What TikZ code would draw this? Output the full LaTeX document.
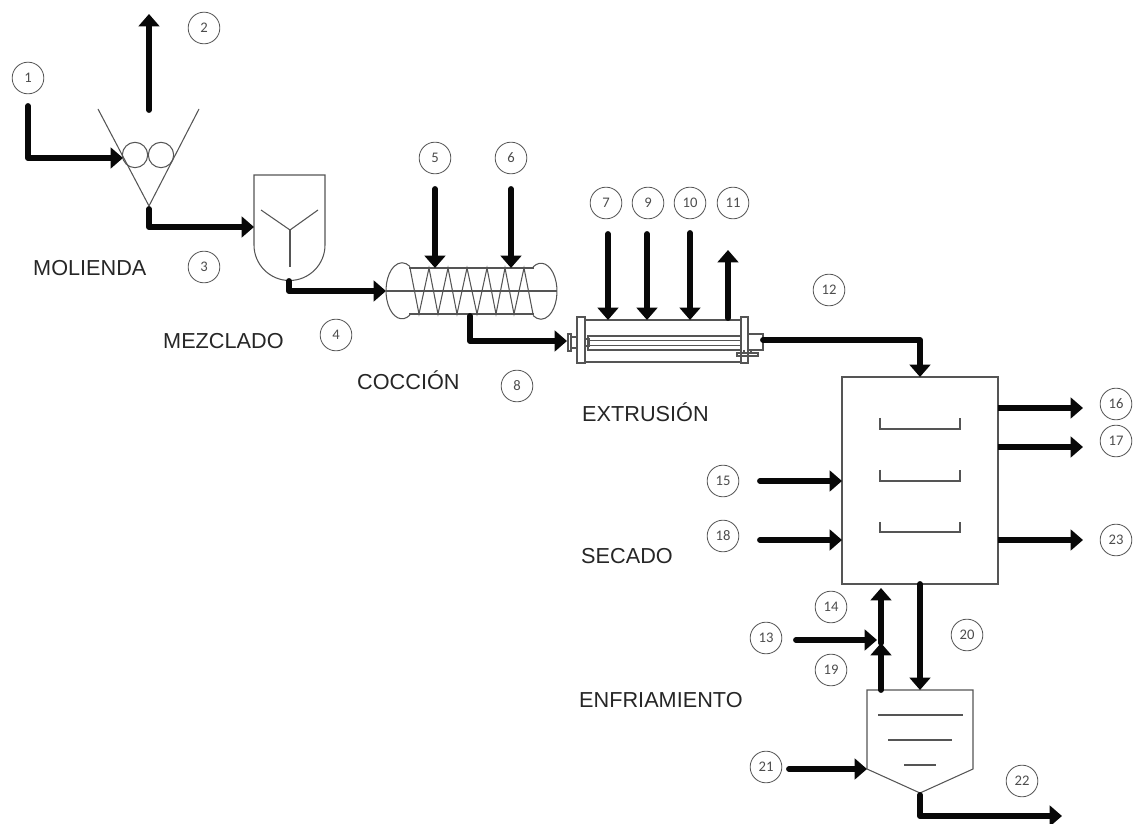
\documentclass[tikz,border=0pt]{standalone}
\usepackage{fontspec}
\setmainfont{Liberation Sans}
\newfontfamily\numfont{Carlito}
\usepackage{xcolor}
\usetikzlibrary{arrows.meta, calc}
\definecolor{thinline}{RGB}{85,85,85}
\definecolor{flowblack}{RGB}{8,8,8}
\tikzset{
  flow/.style={flowblack, line width=5pt, line cap=round, line join=round, -{Triangle[length=10.5pt,width=17.5pt]}},
  flowout/.style={flow, line cap=butt},
  equip/.style={thinline, line width=0.9pt},
  tag/.style={circle, draw=thinline, line width=0.7pt, minimum size=0.95cm, inner sep=0pt, font=\numfont\fontsize{12.5}{12.5}\selectfont, text=black!70},
  stage/.style={font=\fontsize{18.5}{20}\selectfont, text=black!85, anchor=west, inner sep=0pt},
  roller/.style={circle, draw=thinline, line width=0.9pt, minimum size=0.76cm, inner sep=0pt, outer sep=0pt}
}
\begin{document}
\begin{tikzpicture}[x=0.03cm, y=-0.03cm]
  \useasboundingbox (0,0) rectangle (1135,824);

  % Stage names
  \node[stage] (molienda) at (33, 268) {MOLIENDA};
  \node[stage] (mezclado) at (163, 341) {MEZCLADO};
  \node[stage] (coccion) at (357, 380) {COCCIÓN};
  \node[stage] (extrusion) at (582, 412) {EXTRUSIÓN};
  \node[stage] (secado) at (581, 556) {SECADO};
  \node[stage] (enfriamiento) at (579, 700) {ENFRIAMIENTO};

  % Stream numbers
  \node[tag] (n1) at (28, 78) {1};
  \node[tag] (n2) at (204, 28) {2};
  \node[tag] (n3) at (204, 267) {3};
  \node[tag] (n4) at (336, 335) {4};
  \node[tag] (n5) at (435, 158) {5};
  \node[tag] (n6) at (511, 158) {6};
  \node[tag] (n7) at (606, 203) {7};
  \node[tag] (n8) at (517, 386) {8};
  \node[tag] (n9) at (648, 203) {9};
  \node[tag] (n10) at (690, 203) {10};
  \node[tag] (n11) at (733, 203) {11};
  \node[tag] (n12) at (829, 290) {12};
  \node[tag] (n13) at (766, 638) {13};
  \node[tag] (n14) at (831, 607) {14};
  \node[tag] (n15) at (723, 481) {15};
  \node[tag] (n16) at (1116, 404) {16};
  \node[tag] (n17) at (1116, 441) {17};
  \node[tag] (n18) at (723, 536) {18};
  \node[tag] (n19) at (831, 670) {19};
  \node[tag] (n20) at (967, 635) {20};
  \node[tag] (n21) at (766, 767) {21};
  \node[tag] (n22) at (1022, 781) {22};
  \node[tag] (n23) at (1116, 540) {23};

  % Mill
  \draw[equip] (98, 109) -- (149, 206) -- (199, 109);
  \node[roller] (rollerA) at (135, 155) {};
  \node[roller] (rollerB) at (161, 155) {};
  \coordinate (millout) at (149, 209);

  % Mixer
  \draw[equip] (254, 245) -- (254, 175) -- (325, 175) -- (325, 245) arc[start angle=0, end angle=180, radius=35.5];
  \draw[equip] (261, 210) -- (290, 230) -- (318, 210);
  \draw[equip] (290, 230) -- (290, 267);
  \coordinate (mixerin) at (254, 227);
  \coordinate (mixerout) at (289, 281);

  % Cooker
  \draw[equip] (410, 315) arc[start angle=60, end angle=300, x radius=16, y radius=28];
  \draw[equip] (533, 267) arc[start angle=240, end angle=480, x radius=16, y radius=28];
  \draw[equip] (409, 268) -- (534, 268);
  \draw[equip] (409, 314) -- (534, 314);
  \draw[equip] (386, 291) -- (557, 291);
  \draw[equip] (410, 268) -- (419, 314) -- (429, 268) -- (438, 314) -- (448, 268) -- (457, 314) -- (467, 268)
    -- (477, 314) -- (487, 268) -- (496, 314) -- (505, 268) -- (514, 314) -- (524, 268) -- (533, 314);
  \coordinate (cookerin) at (386, 291);
  \coordinate (cookerA) at (435, 268);
  \coordinate (cookerB) at (511, 268);
  \coordinate (cookerout) at (470, 316);

  % Extruder
  \draw[equip] (577, 317) rectangle (585, 363);
  \draw[equip] (741, 317) rectangle (748, 363);
  \draw[equip] (585, 320) -- (741, 320);
  \draw[equip] (585, 362) -- (741, 362);
  \draw[equip] (588, 336) rectangle (741, 350);
  \draw[equip, line width=1.3pt] (589, 340.5) -- (741, 340.5);
  \draw[equip, line width=1.3pt] (589, 345.5) -- (741, 345.5);
  \draw[equip] (568, 334) rectangle (571, 351);
  \draw[equip] (571, 337) rectangle (577, 348);
  \draw[equip, line width=1.2pt] (585, 339) rectangle (589, 346);
  \draw[equip] (748, 334) rectangle (763, 350);
  \draw[equip] (737, 353) rectangle (758, 356);
  \draw[equip] (744, 350) -- (744, 353);
  \draw[equip] (751, 350) -- (751, 353);
  \coordinate (extruderin) at (567, 341);
  \coordinate (extruderA) at (608, 320);
  \coordinate (extruderB) at (647, 320);
  \coordinate (extruderC) at (690, 320);
  \coordinate (extruderD) at (728, 318);
  \coordinate (extruderout) at (763, 340);

  % Dryer
  \node[draw=thinline, line width=0.9pt, minimum width=4.68cm, minimum height=6.21cm, inner sep=0pt, outer sep=0pt] (dryer) at (920, 480.5) {};
  \draw[equip] (880, 418) |- (960, 429) -- (960, 418);
  \draw[equip] (880, 470) |- (960, 481) -- (960, 470);
  \draw[equip] (880, 522) |- (960, 532) -- (960, 522);

  % Cooler
  \draw[equip] (867, 690) -- (973, 690) -- (973, 769) -- (920, 793) -- (867, 769) -- cycle;
  \draw[equip] (878, 715) -- (963, 715);
  \draw[equip] (888, 740) -- (952, 740);
  \draw[equip] (904, 765) -- (936, 765);
  \coordinate (coolertop) at (920, 690);
  \coordinate (coolerback) at (881, 690);
  \coordinate (coolerin) at (867, 769);
  \coordinate (coolerout) at (920, 795);

  % Free ends
  \coordinate (s1) at (28, 106);
  \coordinate (e1) at (123, 158);
  \coordinate (s2) at (149, 110);
  \coordinate (e2) at (149, 14);
  \coordinate (s5) at (435, 189);
  \coordinate (s6) at (511, 189);
  \coordinate (s7) at (608, 234);
  \coordinate (s9) at (647, 234);
  \coordinate (s10) at (690, 233);
  \coordinate (e11) at (728, 250);
  \coordinate (s13) at (796, 640);
  \coordinate (e13) at (877, 640);
  \coordinate (m19) at (881, 643);
  \coordinate (e14) at (881, 588);
  \coordinate (s15) at (760, 481);
  \coordinate (s18) at (760, 540);
  \coordinate (e16) at (1083, 408);
  \coordinate (e17) at (1083, 447);
  \coordinate (e23) at (1083, 540);
  \coordinate (s21) at (789, 769);
  \coordinate (e22) at (1062, 816);

  % Streams
  \draw[flow] (s1) |- (e1);
  \draw[flow] (s2) -- (e2);
  \draw[flow] (millout) |- (mixerin);
  \draw[flow] (mixerout) |- (cookerin);
  \draw[flow] (s5) -- (cookerA);
  \draw[flow] (s6) -- (cookerB);
  \draw[flow] (cookerout) |- (extruderin);
  \draw[flow] (s7) -- (extruderA);
  \draw[flow] (s9) -- (extruderB);
  \draw[flow] (s10) -- (extruderC);
  \draw[flow] (extruderD) -- (e11);
  \draw[flow] (extruderout) -| (dryer.north);
  \draw[flow] (s15) -- (s15 -| dryer.west);
  \draw[flow] (s18) -- (s18 -| dryer.west);
  \draw[flowout] (e16 -| dryer.east) -- (e16);
  \draw[flowout] (e17 -| dryer.east) -- (e17);
  \draw[flowout] (e23 -| dryer.east) -- (e23);
  \draw[flow] (dryer.south) -- (coolertop);
  \draw[flow] (coolerback) -- (m19);
  \draw[flow] (m19) -- (e14);
  \draw[flow] (s13) -- (e13);
  \draw[flow] (s21) -- (coolerin);
  \draw[flow] (coolerout) |- (e22);
\end{tikzpicture}
\end{document}
